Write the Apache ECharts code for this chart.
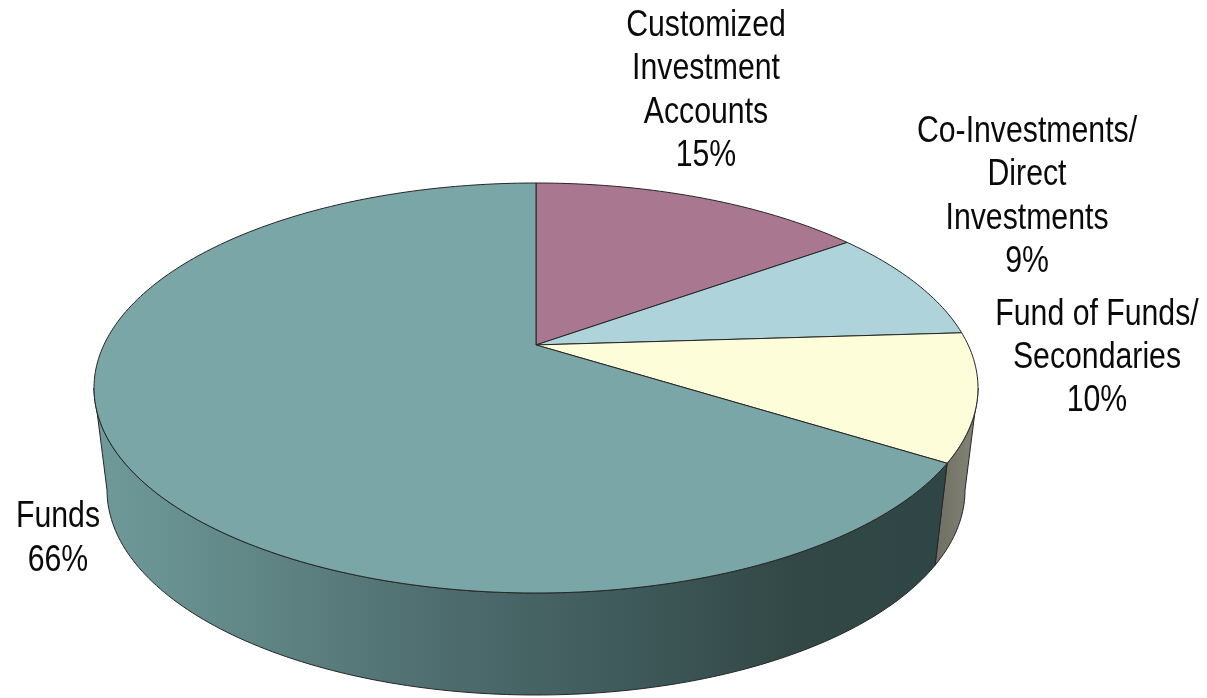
<!DOCTYPE html>
<html>
<head>
<meta charset="utf-8">
<style>html,body{margin:0;padding:0;background:#fff}#chart{width:1207px;height:698px}</style>
<script src="https://cdn.jsdelivr.net/npm/echarts@6/dist/echarts.min.js"></script>
</head>
<body>
<div id="chart"></div>
<script>
// Allocation shares, clockwise from twelve o'clock
const categories = ['Customized\nInvestment\nAccounts', 'Co-Investments/\nDirect\nInvestments', 'Fund of Funds/\nSecondaries', 'Funds'];
const shares = [15, 9, 10, 66];

const faceColors = ['#a9778f', '#aed3db', '#fdfdd9', '#7ba6a7'];
const labelAnchors = [[706, 91], [1027, 197], [1097, 358], [58, 539]];

// Tilted disc: rim ellipses for the top face and the base, and the perspective shift of the hub
const topRim = { cx: 536, cy: 388, rx: 442, ry: 205 };
const baseRim = { cx: 536, cy: 490, rx: 429, ry: 205 };
const hubShift = 0.21;
const coshH = 1 / Math.sqrt(1 - hubShift * hubShift);
const sinhH = hubShift * coshH;

const total = shares.reduce((a, b) => a + b, 0);
const startShare = shares.map((_, i) => shares.slice(0, i).reduce((a, b) => a + b, 0));

// A share position (degrees clockwise from the top) projected onto a rim ellipse
function rimPoint(deg, rim) {
  const t = deg * Math.PI / 180;
  const w = coshH + Math.cos(t) * sinhH;
  return [
    rim.cx + rim.rx * Math.sin(t) / w,
    rim.cy - rim.ry * (Math.cos(t) * coshH + sinhH) / w
  ];
}
function arc(from, to, rim) {
  const n = Math.max(2, Math.ceil(Math.abs(to - from)));
  const pts = [];
  for (let i = 0; i <= n; i++) pts.push(rimPoint(from + (to - from) * i / n, rim));
  return pts;
}
function sliceAngles(i) {
  return [startShare[i] / total * 360, (startShare[i] + shares[i]) / total * 360];
}

// The near side of the disc is only visible between the two silhouette points
const sideFrom = Math.acos(-hubShift) * 180 / Math.PI;
const sideTo = 360 - sideFrom;

const sideFills = [null, null,
  { type: 'linear', x: 936, y: 0, x2: 980, y2: 0, global: true,
    colorStops: [{ offset: 0, color: '#6f7062' }, { offset: 1, color: '#85857a' }] },
  { type: 'linear', x: 100, y: 0, x2: 945, y2: 0, global: true,
    colorStops: [
      { offset: 0, color: '#6f9a9a' },
      { offset: 0.2, color: '#5f8484' },
      { offset: 0.42, color: '#4d6b6d' },
      { offset: 0.62, color: '#3f5a5b' },
      { offset: 0.82, color: '#324846' },
      { offset: 1, color: '#2f4646' }
    ] }];
const outline = { stroke: '#262626', lineWidth: 1, lineJoin: 'round' };

function renderSide(params, api) {
  const i = params.dataIndex;
  const [a0, a1] = sliceAngles(i);
  const from = Math.max(a0, sideFrom), to = Math.min(a1, sideTo);
  if (to <= from) return null;
  const pts = arc(from, to, topRim).concat(arc(to, from, baseRim));
  return { type: 'polygon', shape: { points: pts }, style: Object.assign({ fill: sideFills[i] }, outline) };
}

function renderFace(params, api) {
  const i = params.dataIndex;
  const [a0, a1] = sliceAngles(i);
  const hub = [topRim.cx, topRim.cy - topRim.ry * hubShift];
  return {
    type: 'polygon',
    shape: { points: [hub].concat(arc(a0, a1, topRim)) },
    style: Object.assign({ fill: faceColors[i] }, outline)
  };
}

// No narrow face is installed, so the regular sans is condensed horizontally
function renderLabel(params, api) {
  const i = params.dataIndex;
  return {
    type: 'text',
    x: labelAnchors[i][0],
    y: labelAnchors[i][1],
    scaleX: 0.84,
    style: {
      text: categories[i] + '\n' + api.value(0) + '%',
      x: 0,
      y: 0,
      align: 'center',
      verticalAlign: 'middle',
      fontFamily: '"Liberation Sans", sans-serif',
      fontSize: 36,
      lineHeight: 43.3,
      fill: '#0a0a0a'
    }
  };
}

const rows = shares.map(v => [v]);
const chart = echarts.init(document.getElementById('chart'), null, { renderer: 'canvas' });
chart.setOption({
  animation: false,
  backgroundColor: '#ffffff',
  series: [
    { type: 'custom', coordinateSystem: 'none', data: rows, z: 1, silent: true, renderItem: renderSide },
    { type: 'custom', coordinateSystem: 'none', data: rows, z: 2, silent: true, renderItem: renderFace },
    { type: 'custom', coordinateSystem: 'none', data: rows, z: 3, silent: true, renderItem: renderLabel }
  ]
});
</script>
</body>
</html>
